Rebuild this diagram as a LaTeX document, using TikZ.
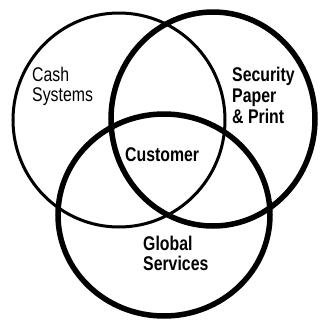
\documentclass[tikz,border=0pt]{standalone}
\usepackage{fontspec}
\setmainfont{Liberation Sans}[FakeStretch=0.8]
\begin{document}
\begin{tikzpicture}[x=1pt,y=-1pt,
  thinring/.style={draw=black,line width=3pt},
  thickring/.style={draw=black,line width=5.5pt},
  label/.style={anchor=base west,inner sep=0pt,font=\fontsize{19.8}{20}\selectfont},
  boldlabel/.style={label,font=\fontsize{19.8}{20}\selectfont\bfseries}]
  \fill[white] (0,0) rectangle (320,322);
  \useasboundingbox (0,0) rectangle (320,322);
  % the three overlapping rings
  \draw[thinring] (119,120) ellipse [x radius=106pt, y radius=107pt];
  \draw[thickring] (213,119) ellipse [x radius=102pt, y radius=107pt];
  \draw[thickring] (164,215) ellipse [x radius=106pt, y radius=101pt];
  % ring captions
  \node[label] (cash) at (32,81) {Cash};
  \node[label] (systems) at (32,101.5) {Systems};
  \node[boldlabel] (security) at (232,81) {Security};
  \node[boldlabel] (paper) at (232,102) {Paper};
  \node[boldlabel] (print) at (232,123) {\& Print};
  \node[boldlabel] (customer) at (125,161) {Customer};
  \node[boldlabel] (global) at (143,250) {Global};
  \node[boldlabel] (services) at (143,270) {Services};
\end{tikzpicture}
\end{document}
